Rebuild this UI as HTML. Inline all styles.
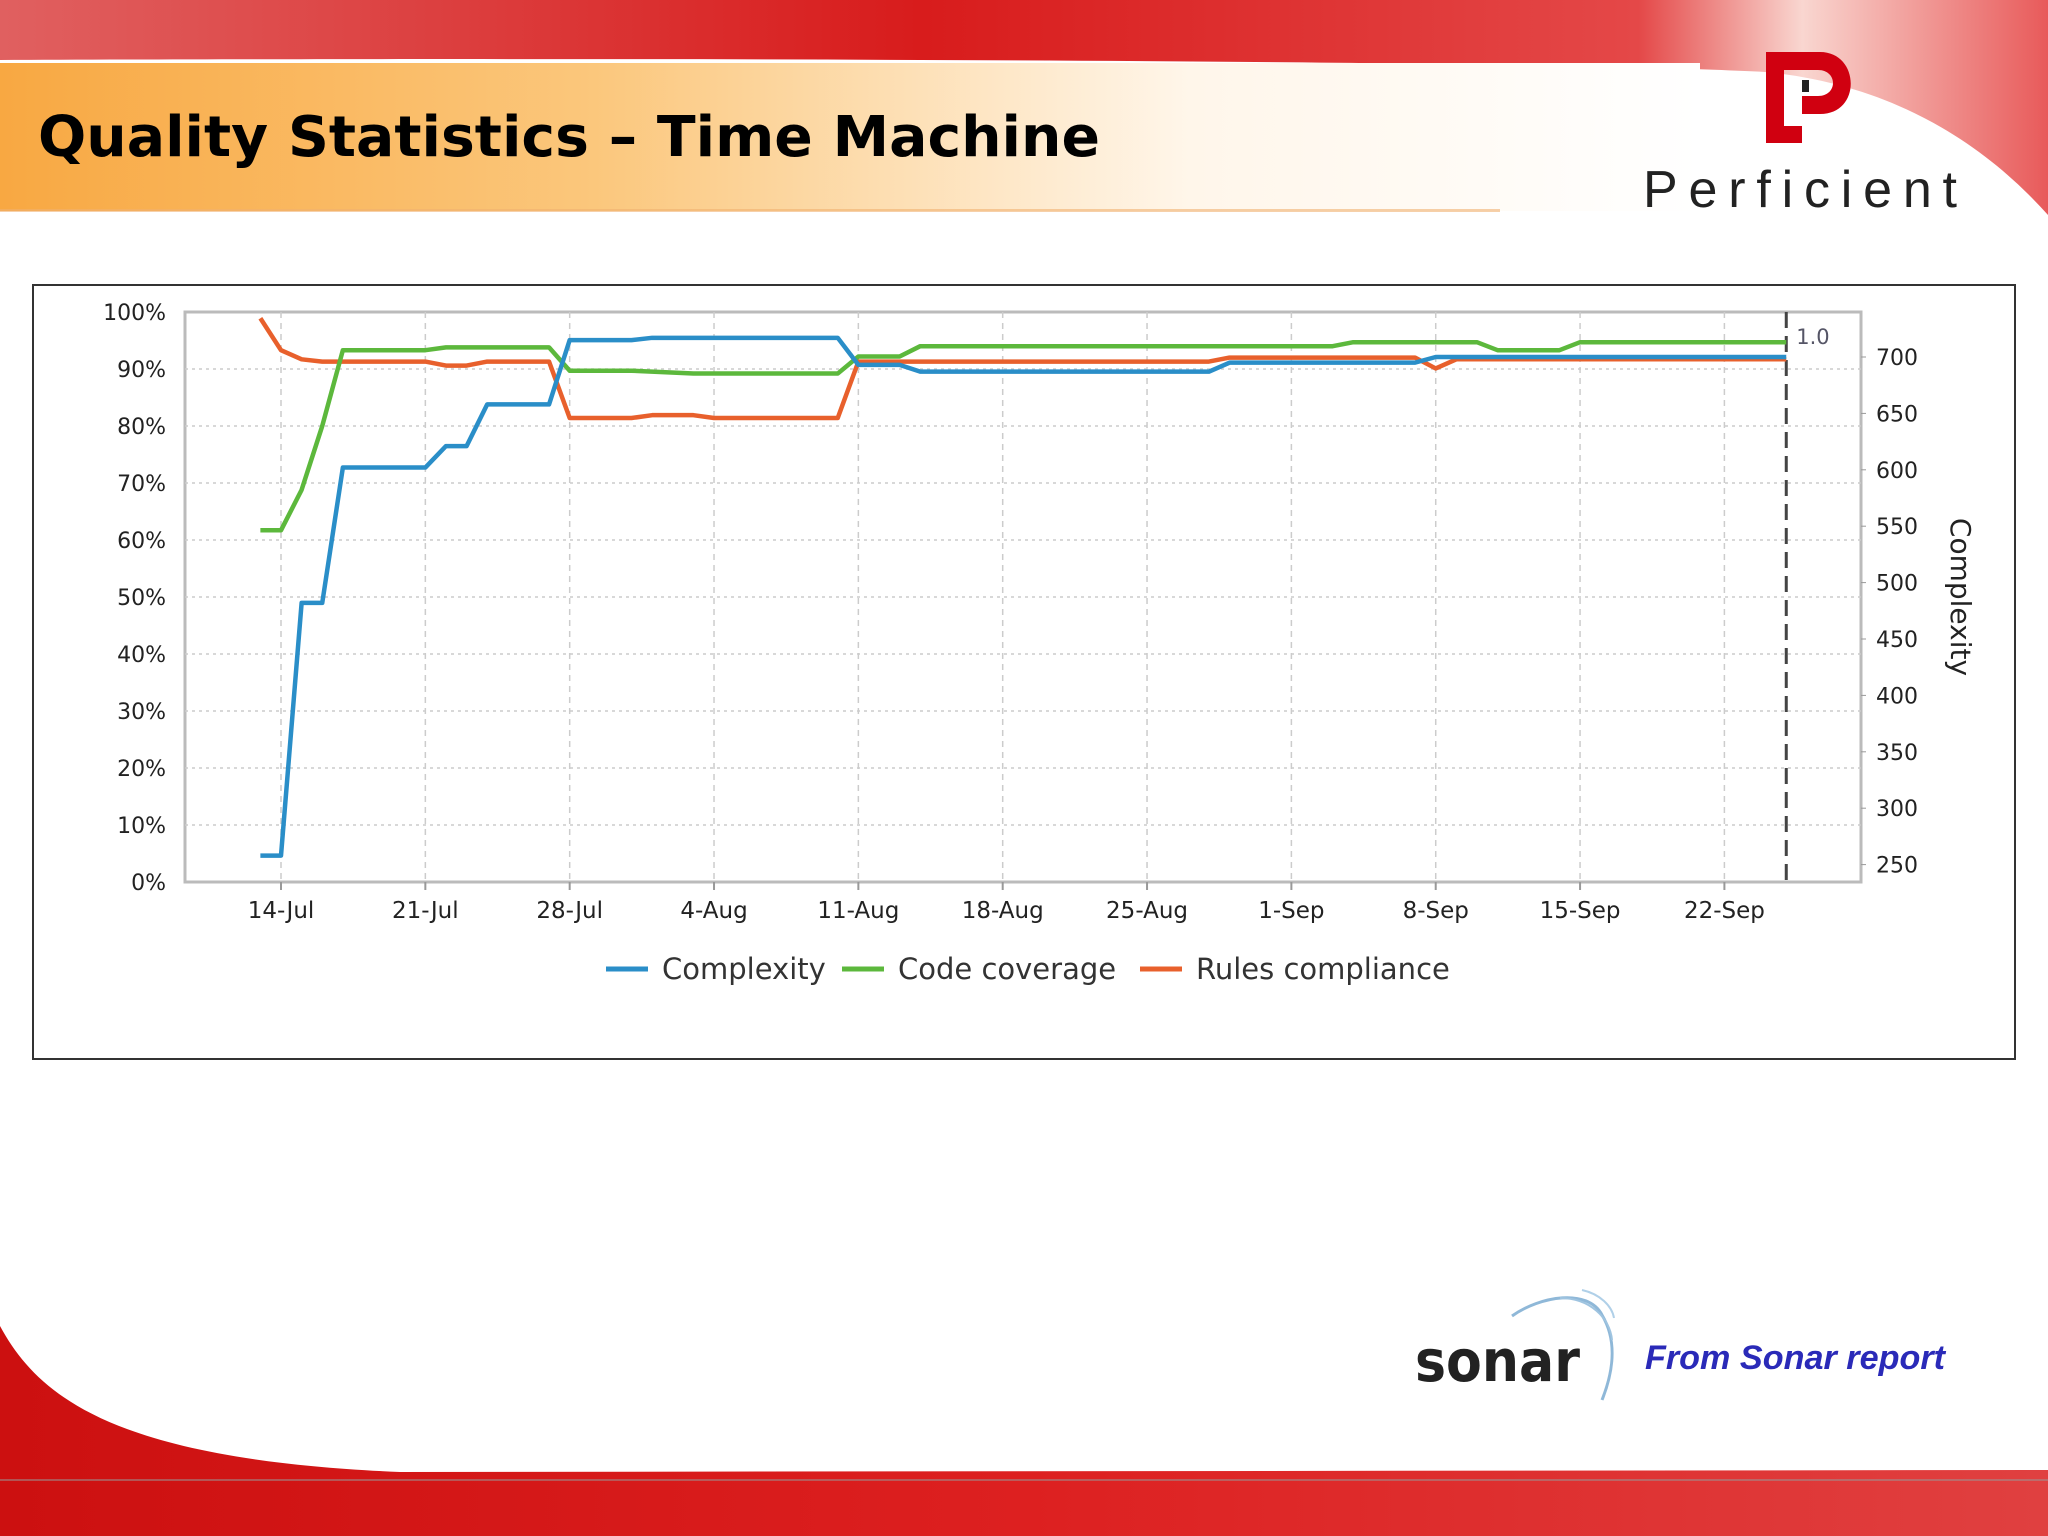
<!DOCTYPE html>
<html><head><meta charset="utf-8"><style>
html,body{margin:0;padding:0;background:#fff}
svg{display:block}
text{font-family:"DejaVu Sans","Liberation Sans",sans-serif}
</style></head><body>
<svg id="slide" width="2048" height="1536" viewBox="0 0 2048 1536" xmlns="http://www.w3.org/2000/svg">
<defs>
<linearGradient id="topRed" x1="0" y1="0" x2="1" y2="0">
<stop offset="0" stop-color="#e06060"/><stop offset="0.45" stop-color="#d81c1c"/><stop offset="0.8" stop-color="#e44848"/><stop offset="0.88" stop-color="#f9d6d0"/><stop offset="1" stop-color="#e85a5a"/>
</linearGradient>
<linearGradient id="orange" x1="0" y1="0" x2="1" y2="0">
<stop offset="0" stop-color="#f8a842"/><stop offset="0.35" stop-color="#fbc77c"/><stop offset="0.7" stop-color="#fff6ea"/><stop offset="1" stop-color="#ffffff"/>
</linearGradient>
<linearGradient id="botRed" x1="0" y1="0" x2="1" y2="0">
<stop offset="0" stop-color="#cc1010"/><stop offset="0.5" stop-color="#dd2020"/><stop offset="1" stop-color="#e04040"/>
</linearGradient>
</defs>
<g>
<path d="M0 0 H2048 V215 C1990 150 1900 85 1765 72 C1500 58 400 58 0 60 Z" fill="url(#topRed)"/>
<rect x="0" y="63" width="1700" height="148" fill="url(#orange)"/>
<rect x="0" y="209" width="1500" height="3" fill="#f0b070" opacity="0.6"/>
<text x="38" y="156" font-size="56" font-weight="bold" fill="#000" textLength="1062" lengthAdjust="spacingAndGlyphs">Quality Statistics – Time Machine</text>
</g>
<g>
<path d="M1766 52 H1820 C1860 52 1862 114 1820 114 H1802 V96 H1818 C1838 96 1838 70 1818 70 H1784 V126 H1802 V143 H1766 Z" fill="#d00010"/>
<rect x="1802" y="80" width="7" height="12" fill="#222"/>
<text x="1643" y="207" font-size="52" fill="#222" textLength="314" lengthAdjust="spacing" style="font-family:'Liberation Sans Narrow','Liberation Sans',sans-serif">Perficient</text>
</g>
<g>
<path d="M0 1326 C40 1400 120 1460 400 1472 L2048 1470 V1536 H0 Z" fill="url(#botRed)"/>
<path d="M0 1480 H2048" stroke="#999" stroke-width="2" opacity="0.5"/>
</g>
<g>
<path d="M1512 1316 C1540 1296 1588 1288 1602 1315 C1620 1345 1610 1380 1602 1400" fill="none" stroke="#8fb8d8" stroke-width="3"/>
<path d="M1560 1298 C1590 1298 1610 1318 1612 1340" fill="none" stroke="#9fc4e0" stroke-width="2"/>
<path d="M1582 1290 C1600 1294 1612 1306 1614 1318" fill="none" stroke="#b0d0e8" stroke-width="2"/>
<text x="1415" y="1381" font-size="58" font-weight="bold" fill="#222" textLength="165" lengthAdjust="spacingAndGlyphs">sonar</text>
</g>
<text x="1645" y="1369" font-size="34" font-weight="bold" font-style="italic" fill="#2a2ab8" textLength="300" lengthAdjust="spacingAndGlyphs" style="font-family:'Liberation Sans',sans-serif">From Sonar report</text>

<rect x="33" y="285" width="1982" height="774" fill="#fff" stroke="#333" stroke-width="2"/>
<g id="chart"></g>
</svg>
<script>
const xTickDays=[0,7,14,21,28,35,42,49,56,63,70];
const xTickLabels=["14-Jul","21-Jul","28-Jul","4-Aug","11-Aug","18-Aug","25-Aug","1-Sep","8-Sep","15-Sep","22-Sep"];
const yLeftTicks=[0,10,20,30,40,50,60,70,80,90,100];
const yRightTicks=[250,300,350,400,450,500,550,600,650,700];
const seriesNames=["Complexity","Code coverage","Rules compliance"];
const complexityDays=[-1,0,1,2,3,7,8,9,10,13,14,17,18,27,28,30,31,45,46,55,56,73];
const complexityVals=[258,258,482,482,602,602,621,621,658,658,715,715,717,717,693,693,687,687,695,695,700,700];
const coverageDays=[-1,0,1,2,3,7,8,13,14,17,20,27,28,30,31,51,52,58,59,62,63,73];
const coverageVals=[61.7,61.7,68.8,80,93.3,93.3,93.8,93.8,89.7,89.7,89.2,89.2,92.2,92.2,94,94,94.7,94.7,93.3,93.3,94.7,94.7];
const rulesDays=[-1,0,1,2,7,8,9,10,13,14,17,18,20,21,27,28,45,46,55,56,57,73];
const rulesVals=[98.9,93.3,91.7,91.3,91.3,90.6,90.6,91.3,91.3,81.4,81.4,81.9,81.9,81.4,81.4,91.3,91.3,92,92,90.1,91.7,91.7];
const markerDay=73, markerLabel="1.0";

const NS="http://www.w3.org/2000/svg";
const g=document.getElementById('chart');
const L=185,R=1861,T=312,B=882;
const X=d=>281+d*20.62;
const YL=v=>B-(v/100)*(B-T);
const YR=v=>357+(700-v)*(56.4/50);
function el(tag,attrs,parent){const e=document.createElementNS(NS,tag);for(const k in attrs)e.setAttribute(k,attrs[k]);(parent||g).appendChild(e);return e;}

const bg=el('rect',{x:L,y:T,width:R-L,height:B-T,fill:'#fff',stroke:'#bbb','stroke-width':3});


yLeftTicks.forEach(v=>{
  if(v>0&&v<100){const l=el('line',{x1:L,x2:R,y1:YL(v),y2:YL(v),stroke:'#ccc','stroke-dasharray':'3 4','stroke-width':1.5});
  
  }
  const t=el('text',{x:166,y:YL(v)+8,'font-size':22,'text-anchor':'end',fill:'#222'});
  t.textContent=v+'%';
  
  
});
yRightTicks.forEach(v=>{
  const t=el('text',{x:1876,y:YR(v)+8,'font-size':22,fill:'#222'});
  t.textContent=v;
  
  
  el('line',{x1:R,x2:R+5,y1:YR(v),y2:YR(v),stroke:'#999'});
});
xTickDays.forEach((d,i)=>{
  const l=el('line',{x1:X(d),x2:X(d),y1:T,y2:B,stroke:'#ccc','stroke-dasharray':'6 5','stroke-width':1.5});
  
  
  el('line',{x1:X(d),x2:X(d),y1:B,y2:B+8,stroke:'#999','stroke-width':2});
  const t=el('text',{x:X(d),y:918,'font-size':23,'text-anchor':'middle',fill:'#222'});
  t.textContent=xTickLabels[i];
  
  
});
const mk=el('line',{x1:X(markerDay),x2:X(markerDay),y1:T,y2:B,stroke:'#444','stroke-width':3,'stroke-dasharray':'16 8'});


const mt=el('text',{x:X(markerDay)+10,y:344,'font-size':21,fill:'#556'});
mt.textContent=markerLabel;



function line(days,vals,yf,color,name){
  const p=days.map((d,i)=>X(d)+','+yf(vals[i])).join(' ');
  const pl=el('polyline',{points:p,fill:'none',stroke:color,'stroke-width':4.5,'stroke-linejoin':'round'});
  
  
}
line(rulesDays,rulesVals,YL,'#e8602c','rules-compliance-line');
line(coverageDays,coverageVals,YL,'#5cb83c','code-coverage-line');
line(complexityDays,complexityVals,YR,'#2a8ec8','complexity-line');

const yt=el('text',{x:0,y:0,'font-size':28,fill:'#222','text-anchor':'middle',transform:'translate(1951,597) rotate(90)'});
yt.textContent='Complexity';



const colors=['#2a8ec8','#5cb83c','#e8602c'];
const lx=[606,842,1140];
seriesNames.forEach((n,i)=>{
  const l=el('line',{x1:lx[i],x2:lx[i]+42,y1:969,y2:969,stroke:colors[i],'stroke-width':5});
  
  
  const t=el('text',{x:lx[i]+56,y:979,'font-size':29,fill:'#333'});
  t.textContent=n;
  
  
});
</script>
</body></html>
